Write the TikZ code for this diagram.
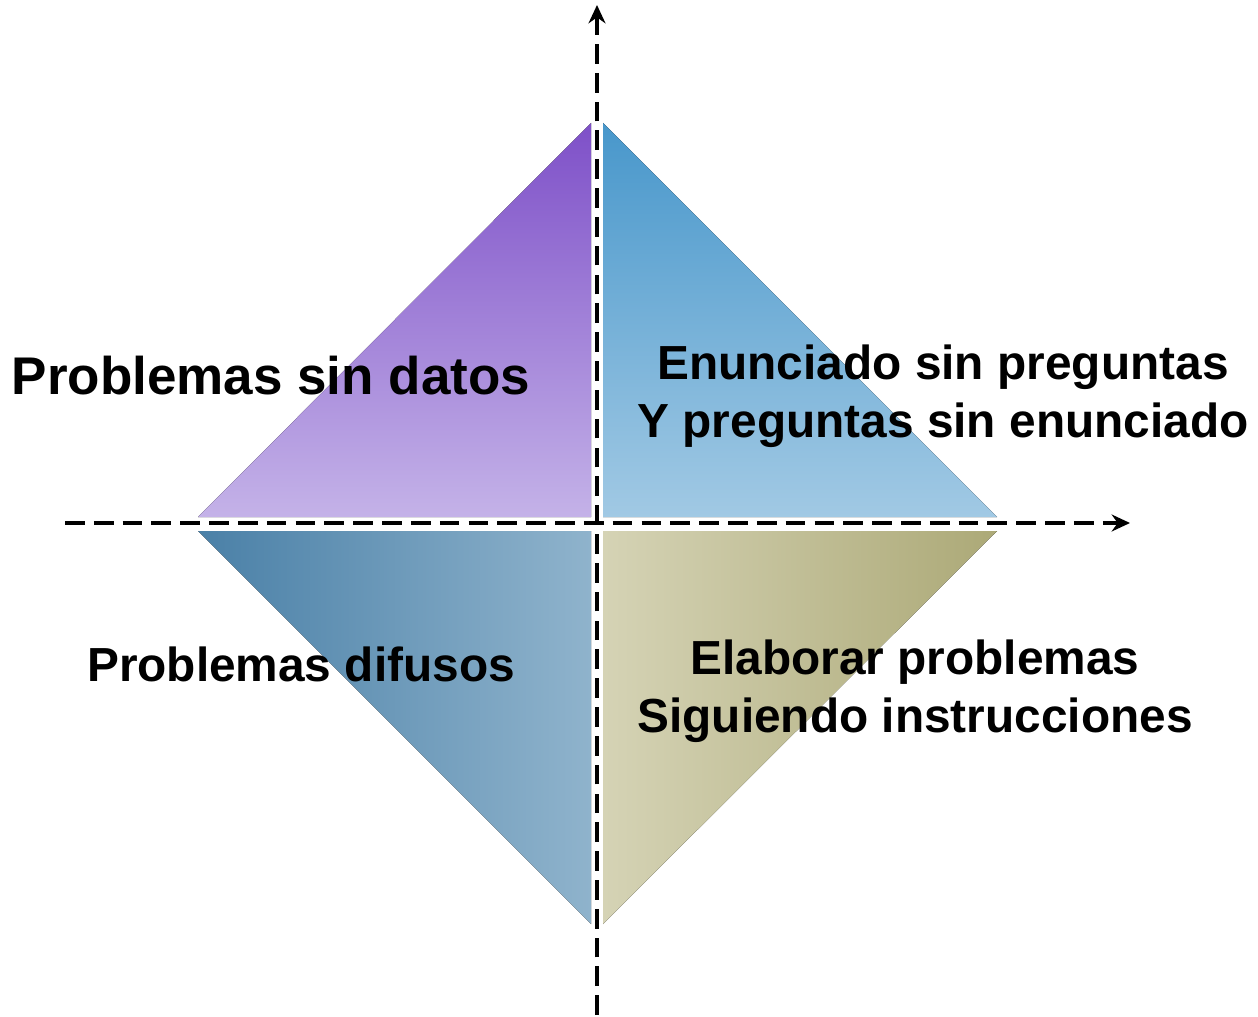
\documentclass[tikz,border=0pt]{standalone}
\usepackage{fontspec}
\setmainfont{Liberation Sans}
\usepackage{tikz}
\usetikzlibrary{positioning,arrows.meta}

\definecolor{purpletop}{HTML}{7E50C8}
\definecolor{purplebot}{HTML}{C4B2E8}
\definecolor{bluetop}{HTML}{4897CB}
\definecolor{bluebot}{HTML}{A1C9E4}
\definecolor{steelleft}{HTML}{4A80A7}
\definecolor{steelright}{HTML}{8FB3CC}
\definecolor{oliveleft}{HTML}{D5D3B5}
\definecolor{oliveright}{HTML}{ACA977}

\begin{document}
\begin{tikzpicture}
  [x=0.025cm,y=-0.025cm,
   every node/.style={font=\bfseries\fontsize{34}{41}\selectfont,align=center,inner sep=0pt},
   axis/.style={line width=2.2pt,dash pattern=on 14pt off 6.5pt,-{Stealth[length=13pt,width=12pt]}}]
  \useasboundingbox (0,0) rectangle (1258,1017);

  \fill[top color=purpletop,bottom color=purplebot] (198,517) -- (591,123) -- (591,517) -- cycle;
  \fill[top color=bluetop,bottom color=bluebot] (603,123) -- (603,517) -- (997,517) -- cycle;
  \fill[left color=steelleft,right color=steelright] (198,531) -- (591,531) -- (591,924) -- cycle;
  \fill[left color=oliveleft,right color=oliveright] (603,531) -- (997,531) -- (603,924) -- cycle;

  \coordinate (xs) at (65,523);
  \coordinate (xe) at (1130,523);
  \coordinate (ys) at (597,1015);
  \coordinate (ye) at (597,5);
\foreach \from/\to in {xs/xe,ys/ye}
    \draw[axis] (\from) -- (\to);

  \node (sindatos) at (271,376) [font=\bfseries\fontsize{37.7}{45}\selectfont] {Problemas sin datos};
  \node (enunciado) at (943,396) {Enunciado sin preguntas\\Y preguntas sin enunciado};
  \node (difusos) at (301,664) {Problemas difusos};
  \node (elaborar) at (915,691) {Elaborar problemas\\Siguiendo instrucciones};

\end{tikzpicture}
\end{document}
